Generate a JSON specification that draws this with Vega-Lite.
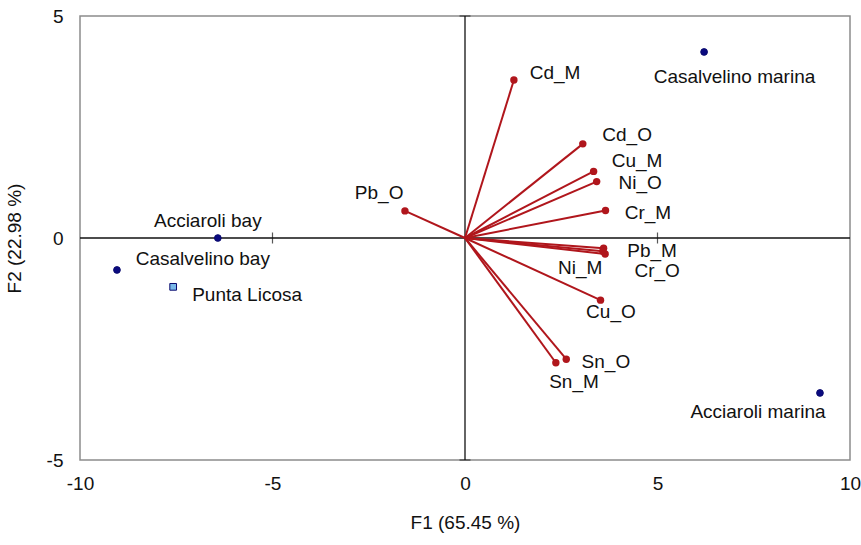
{
  "$schema": "https://vega.github.io/schema/vega-lite/v6.json",
  "width": 770,
  "height": 444,
  "autosize": {"type": "none"},
  "padding": {"left": 80, "top": 16, "right": 11, "bottom": 85},
  "background": "white",
  "config": {
    "view": {"stroke": "#8c8c8c", "strokeWidth": 1.5},
    "font": "Liberation Sans",
    "text": {"font": "Liberation Sans"}
  },
  "datasets": {
    "pts": [
      {"kind": "vector", "name": "Cd_M", "x": 1.27, "y": 3.56, "lx": 2.34, "ly": 3.72},
      {"kind": "vector", "name": "Cd_O", "x": 3.06, "y": 2.12, "lx": 4.21, "ly": 2.32},
      {"kind": "vector", "name": "Cu_M", "x": 3.34, "y": 1.5, "lx": 4.47, "ly": 1.73},
      {"kind": "vector", "name": "Ni_O", "x": 3.42, "y": 1.27, "lx": 4.55, "ly": 1.24},
      {"kind": "vector", "name": "Cr_M", "x": 3.65, "y": 0.62, "lx": 4.75, "ly": 0.56},
      {"kind": "vector", "name": "Pb_M", "x": 3.6, "y": -0.23, "lx": 4.86, "ly": -0.3},
      {"kind": "vector", "name": "Ni_M", "x": 3.58, "y": -0.3, "lx": 2.99, "ly": -0.68},
      {"kind": "vector", "name": "Cr_O", "x": 3.64, "y": -0.36, "lx": 4.99, "ly": -0.74},
      {"kind": "vector", "name": "Cu_O", "x": 3.52, "y": -1.4, "lx": 3.79, "ly": -1.67},
      {"kind": "vector", "name": "Sn_O", "x": 2.63, "y": -2.73, "lx": 3.66, "ly": -2.79},
      {"kind": "vector", "name": "Sn_M", "x": 2.36, "y": -2.81, "lx": 2.83, "ly": -3.24},
      {"kind": "vector", "name": "Pb_O", "x": -1.56, "y": 0.61, "lx": -2.23, "ly": 1.01},
      {"kind": "site", "name": "Casalvelino marina", "x": 6.21, "y": 4.19, "lx": 7.0, "ly": 3.63},
      {"kind": "site", "name": "Acciaroli marina", "x": 9.22, "y": -3.49, "lx": 7.61, "ly": -3.92},
      {"kind": "site", "name": "Acciaroli bay", "x": -6.42, "y": 0.0, "lx": -6.68, "ly": 0.39},
      {"kind": "site", "name": "Casalvelino bay", "x": -9.04, "y": -0.72, "lx": -6.81, "ly": -0.47},
      {"kind": "reference", "name": "Punta Licosa", "x": -7.58, "y": -1.1, "lx": -5.66, "ly": -1.28}
    ],
    "origin": [{"v": 0}],
    "xticks": [{"x": -5, "y": 0}, {"x": 5, "y": 0}],
    "yticks": [{"x": 0, "y": -5}, {"x": 0, "y": 5}]
  },
  "encoding": {
    "x": {
      "type": "quantitative",
      "scale": {"domain": [-10, 10], "nice": false, "zero": false},
      "axis": {
        "title": "F1 (65.45 %)",
        "values": [-10, -5, 0, 5, 10],
        "labelExpr": "'' + datum.value",
        "domain": false, "ticks": false, "grid": false,
        "labelFontSize": 19, "labelColor": "#111", "labelPadding": 14,
        "labelFlush": false, "labelOverlap": false,
        "titleFontSize": 19, "titleFontWeight": "normal", "titleColor": "#111", "titlePadding": 20
      }
    },
    "y": {
      "type": "quantitative",
      "scale": {"domain": [-5, 5], "nice": false, "zero": false},
      "axis": {
        "title": "F2 (22.98 %)",
        "values": [-5, 0, 5],
        "labelExpr": "'' + datum.value",
        "domain": false, "ticks": false, "grid": false,
        "labelFontSize": 19, "labelColor": "#111", "labelPadding": 17,
        "labelFlush": false, "labelOverlap": false,
        "titleFontSize": 19, "titleFontWeight": "normal", "titleColor": "#111", "titlePadding": 22
      }
    }
  },
  "layer": [
    {
      "data": {"name": "origin"},
      "mark": {"type": "rule", "color": "#111", "strokeWidth": 1.3},
      "encoding": {"x": {"field": "v"}}
    },
    {
      "data": {"name": "origin"},
      "mark": {"type": "rule", "color": "#111", "strokeWidth": 1.3},
      "encoding": {"y": {"field": "v"}}
    },
    {
      "data": {"name": "xticks"},
      "mark": {"type": "tick", "orient": "vertical", "color": "#111", "size": 11, "thickness": 1.2},
      "encoding": {"x": {"field": "x"}, "y": {"field": "y"}}
    },
    {
      "data": {"name": "yticks"},
      "mark": {"type": "tick", "orient": "horizontal", "color": "#111", "size": 11, "thickness": 1.2},
      "encoding": {"x": {"field": "x"}, "y": {"field": "y"}}
    },
    {
      "data": {"name": "pts"},
      "transform": [{"filter": "datum.kind === 'vector'"}],
      "mark": {"type": "rule", "color": "#b0161c", "strokeWidth": 2},
      "encoding": {
        "x": {"field": "x"}, "y": {"field": "y"},
        "x2": {"datum": 0}, "y2": {"datum": 0}
      }
    },
    {
      "data": {"name": "pts"},
      "transform": [{"filter": "datum.kind === 'vector'"}],
      "mark": {"type": "circle", "color": "#b0161c", "size": 55, "opacity": 1},
      "encoding": {"x": {"field": "x"}, "y": {"field": "y"}}
    },
    {
      "data": {"name": "pts"},
      "transform": [{"filter": "datum.kind !== 'vector'"}],
      "mark": {"type": "point", "filled": true, "size": 45, "opacity": 1, "stroke": "#0a0a6e", "strokeWidth": 1},
      "encoding": {
        "x": {"field": "x"}, "y": {"field": "y"},
        "shape": {"field": "kind", "type": "nominal", "scale": {"domain": ["site", "reference"], "range": ["circle", "square"]}, "legend": null},
        "fill": {"field": "kind", "type": "nominal", "scale": {"domain": ["site", "reference"], "range": ["#0a0a80", "#79b8e8"]}, "legend": null}
      }
    },
    {
      "data": {"name": "pts"},
      "mark": {"type": "text", "fontSize": 19, "color": "#111", "align": "center", "baseline": "middle"},
      "encoding": {
        "x": {"field": "lx"}, "y": {"field": "ly"},
        "text": {"field": "name"}
      }
    }
  ]
}
